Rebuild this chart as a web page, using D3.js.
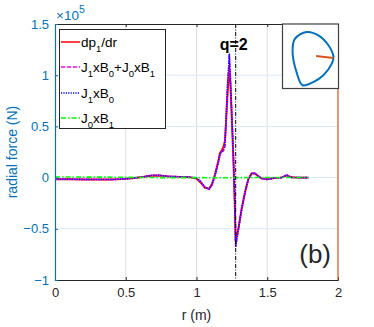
<!DOCTYPE html>
<html><head><meta charset="utf-8">
<script src="https://cdn.jsdelivr.net/npm/d3@7"></script>
<style>body{margin:0;background:#fff}svg{display:block;font-family:"Liberation Sans",Arial,sans-serif}</style>
</head><body><svg id="c" width="374" height="327"></svg>
<script>
// ---- data (values in units of 1e5 N) ----
const r = [0,0.1,0.2,0.3,0.4,0.47,0.55,0.62,0.68,0.74,0.8,0.88,0.95,1.0,1.03,1.06,1.09,1.11,1.13,1.154,1.166,1.18,1.19,1.201,1.208,1.218,1.228,1.232,1.24,1.25,1.26,1.27,1.277,1.296,1.319,1.343,1.366,1.39,1.413,1.437,1.46,1.5,1.55,1.6,1.637,1.67,1.72,1.79];
const dpdr = [-0.016,-0.016,-0.018,-0.019,-0.019,-0.015,-0.006,0.006,0.018,0.02,0.012,0.007,0.004,-0.01,-0.05,-0.1,-0.108,-0.06,0.03,0.16,0.24,0.27,0.3,0.36,0.52,0.78,1.0,1.07,0.9,0.55,0.2,-0.25,-0.62,-0.5,-0.3,-0.14,-0.015,0.04,0.04,0.014,-0.008,-0.016,-0.004,0.0,0.022,0.003,0.0,0.0];
const jb = [-0.015,-0.015,-0.017,-0.018,-0.018,-0.014,-0.005,0.008,0.022,0.022,0.012,0.008,0.005,-0.005,-0.04,-0.095,-0.114,-0.07,0.016,0.146,0.228,0.255,0.26,0.31,0.54,0.86,1.09,1.2,0.95,0.6,0.25,-0.2,-0.668,-0.505,-0.31,-0.146,-0.017,0.042,0.042,0.016,-0.008,-0.017,-0.003,0.0,0.025,0.003,0.0,0.0];
const j1b0 = [-0.016,-0.016,-0.018,-0.019,-0.019,-0.015,-0.006,0.007,0.021,0.022,0.012,0.008,0.005,-0.004,-0.04,-0.094,-0.112,-0.068,0.018,0.148,0.23,0.256,0.262,0.312,0.545,0.865,1.095,1.205,0.955,0.6,0.25,-0.2,-0.67,-0.507,-0.312,-0.147,-0.018,0.041,0.041,0.015,-0.009,-0.018,-0.004,0.0,0.024,0.002,0.0,0.0];
const j0b1 = [0.006,0.006,0.005,0.005,0.004,0.003,0.002,0.001,0.001,0.0,0.0,0.0,0.0,0.0,0.0,-0.001,-0.002,-0.002,-0.002,-0.002,-0.002,-0.001,-0.001,-0.001,-0.001,-0.001,-0.001,-0.001,-0.001,-0.001,0.0,0.0,0.0,0.0,0.0,0.0,0.001,0.001,0.001,0.001,0.001,0.001,0.001,0.001,0.001,0.001,0.001,0.001];
const xTicks = [0,0.5,1,1.5,2];
const yTicks = [-1,-0.5,0,0.5,1,1.5];
const qLine = 1.277;
// plasma boundary for inset (normalized coordinates)
const bndR = [0.43,0.64,0.82,0.91,0.88,0.73,0.55,0.36,0.25,0.18,0.22];
const bndZ = [0.876,0.825,0.67,0.49,0.385,0.205,0.10,0.05,0.256,0.566,0.77];
const rayR = [0.6,0.907];
const rayZ = [0.504,0.473];

const svg = d3.select("#c");
const L=55,R=338,T=24,B=280;
const x = d3.scaleLinear().domain([0,2]).range([L,R]);
const y = d3.scaleLinear().domain([-1,1.5]).range([B,T]);
const blueAx="#0072BD", orange="#D95319", dark="#262626";

// grid
svg.append("g").selectAll("line").data(xTicks.slice(1,-1)).join("line")
  .attr("x1",d=>x(d)).attr("x2",d=>x(d)).attr("y1",T).attr("y2",B)
  .attr("stroke","#dfdfdf").attr("stroke-width",1);
svg.append("g").selectAll("line").data(yTicks.slice(1,-1)).join("line")
  .attr("x1",L).attr("x2",R).attr("y1",d=>y(d)).attr("y2",d=>y(d))
  .attr("stroke","#d9e9f5").attr("stroke-width",1);

// curves
const line = d3.line().x((d,i)=>x(r[i])).y(d=>y(d));
function curve(arr,color,dash,w){
  svg.append("path").attr("d",line(arr)).attr("fill","none").attr("stroke",color)
    .attr("stroke-width",w).attr("stroke-dasharray",dash).attr("stroke-linejoin","round");
}
curve(dpdr,"#ff0000",null,1.9);
curve(jb,"#ff00ff","4,2",1.6);
curve(j1b0,"#0000ff","1.2,1.2",1.6);
curve(j0b1,"#00ff00","5,2,1.5,2",1.6);

// q=2 line
svg.append("line").attr("x1",x(qLine)).attr("x2",x(qLine)).attr("y1",T).attr("y2",B)
  .attr("stroke","#000").attr("stroke-width",1).attr("stroke-dasharray","4,1.5,1,1.5");

// axes
const xAxB = d3.axisBottom(x).tickValues(xTicks).tickSize(-3).tickPadding(8).tickFormat(d3.format("~g"));
const gx = svg.append("g").attr("transform",`translate(0,${B})`).call(xAxB);
gx.select(".domain").attr("stroke",dark);
gx.selectAll(".tick line").attr("stroke",dark);
gx.selectAll("text").attr("fill",dark).attr("font-size",13).attr("font-family","Liberation Sans, Arial");
const xAxT = d3.axisTop(x).tickValues(xTicks).tickSize(-3).tickFormat("");
const gt = svg.append("g").attr("transform",`translate(0,${T})`).call(xAxT);
gt.select(".domain").attr("stroke",dark);
gt.selectAll(".tick line").attr("stroke",dark);

const yAx = d3.axisLeft(y).tickValues(yTicks).tickSize(-3).tickPadding(6).tickFormat(d3.format("~g"));
const gy = svg.append("g").attr("transform",`translate(${L},0)`).call(yAx);
gy.select(".domain").attr("stroke",blueAx).attr("stroke-width",1.2);
gy.selectAll(".tick line").attr("stroke",blueAx);
gy.selectAll("text").attr("fill",blueAx).attr("font-size",13).attr("font-family","Liberation Sans, Arial");

// right axis (orange)
svg.append("line").attr("x1",R).attr("x2",R).attr("y1",T).attr("y2",B).attr("stroke",orange).attr("stroke-width",1.2);

// exponent
const ex = svg.append("text").attr("x",56).attr("y",20).attr("fill",blueAx).attr("font-size",13.5);
ex.append("tspan").text("×10");
ex.append("tspan").attr("font-size",10.5).attr("dy",-7).text("5");

// axis labels
svg.append("text").attr("transform",`translate(17,${(T+B)/2}) rotate(-90)`).attr("text-anchor","middle")
  .attr("fill",blueAx).attr("font-size",14).text("radial force (N)");
svg.append("text").attr("x",(L+R)/2).attr("y",320).attr("text-anchor","middle")
  .attr("fill",dark).attr("font-size",14).text("r (m)");

// annotations
svg.append("text").attr("x",x(qLine)-2).attr("y",50).attr("text-anchor","middle")
  .attr("font-weight","bold").attr("font-size",16).attr("fill","#000").text("q=2");
svg.append("text").attr("x",331).attr("y",263).attr("text-anchor","end")
  .attr("font-size",26).attr("fill",dark).text("(b)");

// legend
const lg = svg.append("g");
lg.append("rect").attr("x",59.5).attr("y",29.5).attr("width",106).attr("height",99)
  .attr("fill","#fff").attr("stroke",dark).attr("stroke-width",1);
const legItems = [
  {c:"#ff0000",d:null,parts:[["dp",0],["1",1],["/dr",0]]},
  {c:"#ff00ff",d:"4,2",parts:[["J",0],["1",1],["xB",0],["0",1],["+J",0],["0",1],["xB",0],["1",1]]},
  {c:"#0000ff",d:"1.2,1.2",parts:[["J",0],["1",1],["xB",0],["0",1]]},
  {c:"#00ff00",d:"5,2,1.5,2",parts:[["J",0],["0",1],["xB",0],["1",1]]}
];
const legY = [42,67,93,118];
legItems.forEach((it,i)=>{
  lg.append("line").attr("x1",61).attr("x2",80).attr("y1",legY[i]).attr("y2",legY[i])
    .attr("stroke",it.c).attr("stroke-width",1.5).attr("stroke-dasharray",it.d);
  const t = lg.append("text").attr("x",81).attr("y",legY[i]+4.5).attr("font-size",13.5).attr("fill","#000");
  let prevSub=false;
  it.parts.forEach(([s,sub])=>{
    const sp = t.append("tspan").text(s);
    if(sub){sp.attr("font-size",9.5).attr("dy",prevSub?0:5);}
    else if(prevSub){sp.attr("dy",-5);}
    prevSub=!!sub;
  });
});

// inset
const ix = d3.scaleLinear().domain([0,1]).range([282.5,338.5]);
const iy = d3.scaleLinear().domain([0,1]).range([88.5,24]);
svg.append("rect").attr("x",282.5).attr("y",24).attr("width",56).attr("height",64.5)
  .attr("fill","#fff").attr("stroke","#404040").attr("stroke-width",1.2);
const bline = d3.line().x((d,i)=>ix(bndR[i])).y(d=>iy(d)).curve(d3.curveCatmullRomClosed.alpha(0.5));
svg.append("path").attr("d",bline(bndZ)).attr("fill","none").attr("stroke",blueAx).attr("stroke-width",2);
svg.append("line").attr("x1",ix(rayR[0])).attr("x2",ix(rayR[1])).attr("y1",iy(rayZ[0])).attr("y2",iy(rayZ[1]))
  .attr("stroke",orange).attr("stroke-width",2);
</script></body></html>
